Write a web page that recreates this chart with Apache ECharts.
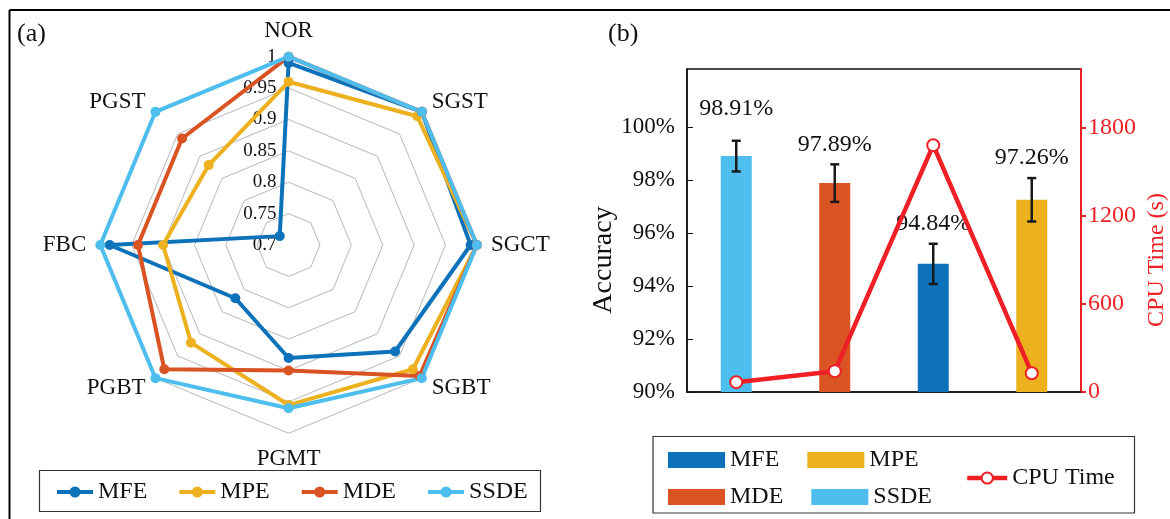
<!DOCTYPE html>
<html><head><meta charset="utf-8">
<script src="https://cdn.jsdelivr.net/npm/echarts@6/dist/echarts.min.js"></script>
<style>html,body{margin:0;padding:0;background:#fff}#c{width:1170px;height:519px}</style>
</head><body><div id="c"></div>
<script>
// ---------- data ----------
const radarAxes = ['NOR', 'PGST', 'FBC', 'PGBT', 'PGMT', 'SGBT', 'SGCT', 'SGST']; // counter-clockwise from top
const radarMin = 0.7;
const radarMax = 1.0;
const radarMFE  = [0.99, 0.72, 0.985, 0.82, 0.88, 0.94, 0.99, 1.0];
const radarMPE  = [0.96, 0.88, 0.90, 0.92, 0.955, 0.98, 1.0, 0.99];
const radarMDE  = [1.0, 0.94, 0.94, 0.98, 0.90, 0.995, 1.0, 1.0];
const radarSSDE = [1.0, 1.0, 1.0, 1.0, 0.96, 1.0, 1.0, 1.0];

const methods = ['MFE', 'MPE', 'MDE', 'SSDE'];
const barCats = ['SSDE', 'MDE', 'MFE', 'MPE'];
const accuracy = [98.91, 97.89, 94.84, 97.26];
const accErr = [0.58, 0.71, 0.76, 0.82];
const cpuTime = [67, 142, 1681, 128];
const accTicks = [90, 92, 94, 96, 98, 100];
const cpuTicks = [0, 600, 1200, 1800];

// ---------- style ----------
const FONT = '"Liberation Serif", "Times New Roman", serif';
const colors = { MFE: '#0E72BA', MPE: '#EDB120', MDE: '#D95323', SSDE: '#4DBEEE' };
const CPU_RED = '#EE2026';
const radarValues = { MFE: radarMFE, MPE: radarMPE, MDE: radarMDE, SSDE: radarSSDE };
const lineDotIcon = 'path://M0,3.5H36V7.5H0Z M18,0A5.5,5.5 0 1 1 18,11A5.5,5.5 0 1 1 18,0Z';
const labelGap = 20;                    // px between error-bar cap and value label
const labelExtraLift = { SSDE: 12 };    // extra label lift (px) per category

const chart = echarts.init(document.getElementById('c'), null, { renderer: 'canvas' });

const radarSeries = methods.map(m => ({
  name: m, type: 'radar', radarIndex: 0, z: 3,
  symbol: 'circle', symbolSize: 10,
  lineStyle: { width: 4, color: colors[m] },
  itemStyle: { color: colors[m] },
  data: [{ name: m, value: radarValues[m] }]
}));

const barSeries = methods.map(m => ({
  name: m, type: 'bar', xAxisIndex: 0, yAxisIndex: 0, z: 2,
  barWidth: 31, barGap: '-100%',
  itemStyle: { color: colors[m] },
  data: barCats.map((c, i) => (c === m ? accuracy[i] : '-'))
}));

const option = {
  animation: false,
  backgroundColor: '#fff',
  textStyle: { fontFamily: FONT },
  title: [
    { text: '(a)', left: 12, top: 16, textStyle: { fontSize: 26, fontWeight: 'normal', fontFamily: FONT, color: '#111' } },
    { text: '(b)', left: 603, top: 16, textStyle: { fontSize: 26, fontWeight: 'normal', fontFamily: FONT, color: '#111' } }
  ],
  graphic: [
    { type: 'line', shape: { x1: 9.5, y1: 10, x2: 1170, y2: 10 }, style: { stroke: '#000', lineWidth: 2 } },
    { type: 'line', shape: { x1: 9.5, y1: 10, x2: 9.5, y2: 519 }, style: { stroke: '#000', lineWidth: 2 } },
    { type: 'rect', shape: { x: 39.5, y: 470.5, width: 501, height: 41 }, style: { fill: 'none', stroke: '#333', lineWidth: 1.2 } },
    { type: 'rect', shape: { x: 653, y: 436.5, width: 481.5, height: 76.5 }, style: { fill: 'none', stroke: '#333', lineWidth: 1.2 } }
  ],
  legend: [
    {
      data: methods, left: 52, top: 475, orient: 'horizontal',
      icon: lineDotIcon, itemWidth: 36, itemHeight: 11, itemGap: 32,
      itemStyle: { borderWidth: 0 },
      textStyle: { fontSize: 24, fontFamily: FONT, color: '#111' }, selectedMode: false
    },
    {
      data: ['MFE', 'MPE'], left: 663, top: 443, orient: 'horizontal',
      icon: 'rect', itemWidth: 57, itemHeight: 16, itemGap: 28,
      itemStyle: { borderWidth: 0 },
      textStyle: { fontSize: 24, fontFamily: FONT, color: '#111', width: 56 }, selectedMode: false
    },
    {
      data: ['MDE', 'SSDE'], left: 663, top: 480, orient: 'horizontal',
      icon: 'rect', itemWidth: 57, itemHeight: 16, itemGap: 28,
      itemStyle: { borderWidth: 0 },
      textStyle: { fontSize: 24, fontFamily: FONT, color: '#111', width: 56 }, selectedMode: false
    },
    {
      data: ['CPU Time'], left: 960, top: 461, orient: 'horizontal',
      itemWidth: 40, itemHeight: 14,
      lineStyle: { width: 4.5 },
      itemStyle: { borderWidth: 3.5 },
      textStyle: { fontSize: 24, fontFamily: FONT, color: '#111' }, selectedMode: false
    }
  ],
  radar: {
    center: [288.6, 245], radius: 188.3, startAngle: 90, shape: 'polygon', splitNumber: 6,
    indicator: radarAxes.map((n, i) => (i === 0
      ? { name: n, min: radarMin, max: radarMax, axisLabel: { show: true } }
      : { name: n, min: radarMin, max: radarMax })),
    axisName: { color: '#111', fontSize: 23, fontFamily: FONT },
    nameGap: 14,
    splitLine: { lineStyle: { color: '#b8b8b8', width: 1 } },
    splitArea: { show: false },
    axisLine: { show: false },
    axisTick: { show: false },
    axisLabel: {
      show: false, fontSize: 19, color: '#111', fontFamily: FONT, margin: 12,
      showMinLabel: true, showMaxLabel: true,
      formatter: v => String(parseFloat(Number(v).toFixed(2)))
    }
  },
  grid: { left: 687, right: 86, top: 69, bottom: 127, show: true, borderColor: '#111', borderWidth: 1.5, backgroundColor: 'transparent' },
  xAxis: {
    type: 'category', data: barCats, boundaryGap: true,
    axisLine: { lineStyle: { color: '#111', width: 1.5 } },
    axisTick: { show: false }, axisLabel: { show: false }, splitLine: { show: false }
  },
  yAxis: [
    {
      type: 'value', position: 'left', min: 90, max: 102.2, interval: 2,
      name: 'Accuracy', nameLocation: 'middle', nameRotate: 90, nameGap: 56,
      nameTextStyle: { fontSize: 28, fontFamily: FONT, color: '#111', padding: [0, 59, 0, 0] },
      axisLine: { show: true, lineStyle: { color: '#111', width: 1.5 } },
      axisTick: { show: true, inside: true, length: 6, customValues: accTicks, lineStyle: { color: '#111' } },
      axisLabel: { customValues: accTicks, formatter: v => v + '%', fontSize: 23, fontFamily: FONT, color: '#111', margin: 12 },
      splitLine: { show: false }
    },
    {
      type: 'value', position: 'right', min: 0, max: 2200, interval: 600,
      name: 'CPU Time (s)', nameLocation: 'middle', nameRotate: 90, nameGap: 64,
      nameTextStyle: { fontSize: 24, fontFamily: FONT, color: CPU_RED, padding: [0, 59, 0, 0] },
      axisLine: { show: true, lineStyle: { color: CPU_RED, width: 2 } },
      axisTick: { show: true, inside: false, length: 5, customValues: cpuTicks, lineStyle: { color: CPU_RED, width: 2 } },
      axisLabel: { customValues: cpuTicks, formatter: v => String(v), fontSize: 24, fontFamily: FONT, color: CPU_RED, margin: 7 },
      splitLine: { show: false }
    }
  ],
  series: [
    ...radarSeries,
    ...barSeries,
    {
      name: 'errorbars', type: 'custom', xAxisIndex: 0, yAxisIndex: 0, z: 4,
      data: barCats.map((c, i) => [i, accuracy[i] - accErr[i], accuracy[i] + accErr[i], accuracy[i]]),
      encode: { x: 0, y: [1, 2] },
      renderItem: function (params, api) {
        const x = api.value(0);
        const lo = api.coord([x, api.value(1)]);
        const hi = api.coord([x, api.value(2)]);
        const hw = 4.5;
        const st = { stroke: '#1a1a1a', lineWidth: 2.5 };
        const lift = labelGap + (labelExtraLift[barCats[params.dataIndex]] || 0);
        return {
          type: 'group', children: [
            { type: 'line', shape: { x1: lo[0], y1: lo[1], x2: hi[0], y2: hi[1] }, style: st },
            { type: 'line', shape: { x1: lo[0] - hw, y1: lo[1], x2: lo[0] + hw, y2: lo[1] }, style: st },
            { type: 'line', shape: { x1: hi[0] - hw, y1: hi[1], x2: hi[0] + hw, y2: hi[1] }, style: st },
            { type: 'text', style: { text: api.value(3).toFixed(2) + '%', x: hi[0], y: hi[1] - lift, align: 'center', verticalAlign: 'middle', fontSize: 24, fontFamily: FONT, fill: '#111' } }
          ]
        };
      }
    },
    {
      name: 'CPU Time', type: 'line', xAxisIndex: 0, yAxisIndex: 1, z: 6,
      data: cpuTime,
      symbol: 'emptyCircle', symbolSize: 12,
      lineStyle: { color: CPU_RED, width: 4.5 },
      itemStyle: { color: CPU_RED, borderColor: CPU_RED, borderWidth: 3.5 }
    }
  ]
};
chart.setOption(option);
</script>
</body></html>
